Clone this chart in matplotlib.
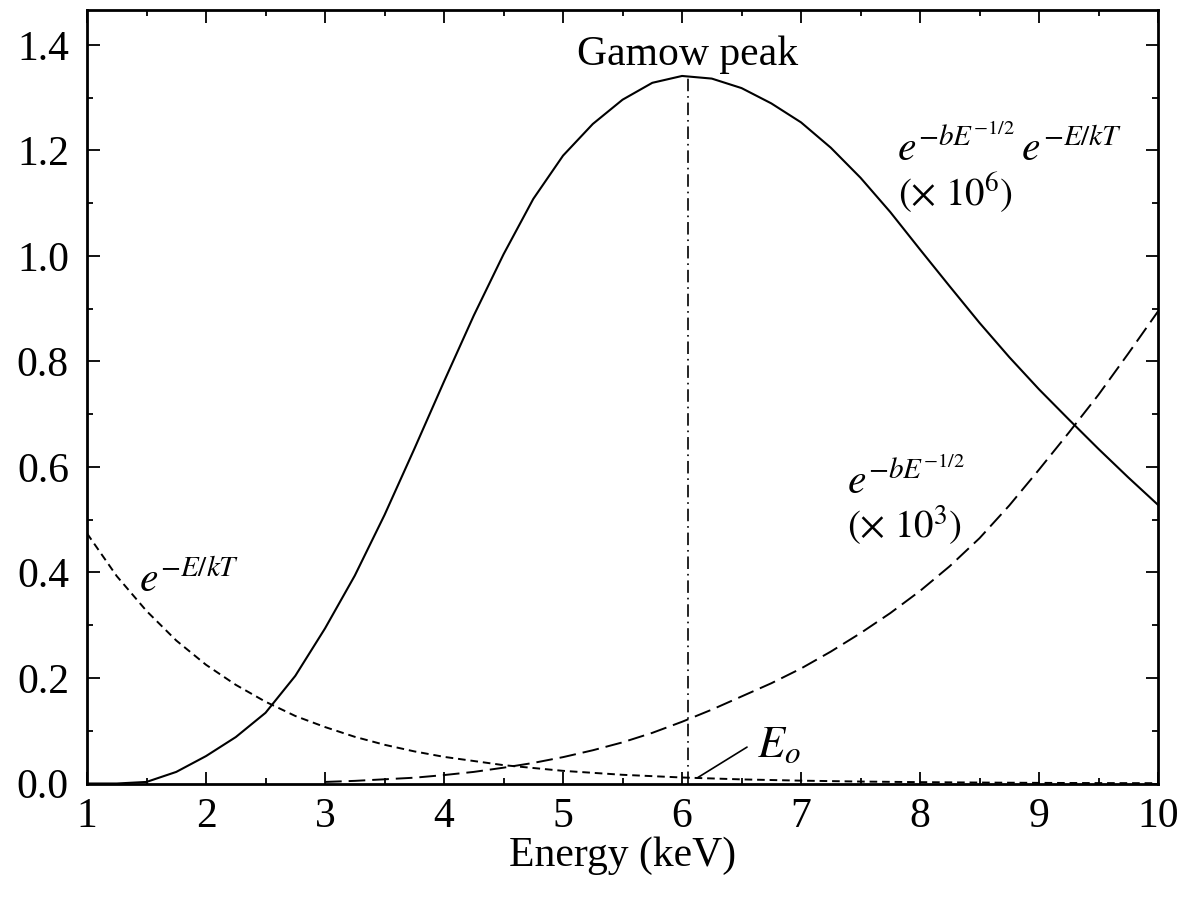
import matplotlib
matplotlib.use("Agg")
import matplotlib.pyplot as plt
from matplotlib.ticker import MultipleLocator

plt.rcParams['font.family'] = ['Liberation Serif', 'DejaVu Serif']
plt.rcParams['mathtext.fontset'] = 'stix'
plt.rcParams['lines.scale_dashes'] = False

# ---- data ----
energy_gamow = [1.0, 1.25, 1.5, 1.75, 2.0, 2.25, 2.5, 2.75, 3.0, 3.25, 3.5, 3.75,
                4.0, 4.25, 4.5, 4.75, 5.0, 5.25, 5.5, 5.75, 6.0, 6.25, 6.5, 6.75,
                7.0, 7.25, 7.5, 7.75, 8.0, 8.25, 8.5, 8.75, 9.0, 9.25, 9.5, 9.75, 10.0]
gamow_x1e6 = [0.0, 0.0, 0.003, 0.022, 0.052, 0.088, 0.134, 0.204, 0.294, 0.394, 0.509, 0.634,
              0.762, 0.887, 1.003, 1.108, 1.190, 1.250, 1.296, 1.328, 1.341, 1.336, 1.318, 1.289,
              1.253, 1.205, 1.148, 1.083, 1.012, 0.942, 0.873, 0.808, 0.747, 0.690, 0.634, 0.580, 0.528]

energy_boltz = [1.0, 1.25, 1.5, 1.75, 2.0, 2.25, 2.5, 2.75, 3.0, 3.25, 3.5, 3.75, 4.0,
                4.5, 5.0, 5.5, 6.0, 6.5, 7.0, 7.5, 8.0, 8.5, 9.0, 9.5, 10.0]
boltzmann = [0.474, 0.393, 0.327, 0.271, 0.225, 0.187, 0.155, 0.128, 0.107, 0.0885, 0.0734, 0.0609, 0.0505,
             0.0348, 0.0240, 0.0165, 0.0114, 0.0078, 0.0054, 0.0037, 0.0026, 0.0018, 0.0012, 0.0008, 0.0006]

energy_tunnel = [3.0, 3.25, 3.5, 3.75, 4.0, 4.25, 4.5, 4.75, 5.0, 5.25, 5.5, 5.75, 6.0, 6.25,
                 6.5, 6.75, 7.0, 7.25, 7.5, 7.75, 8.0, 8.25, 8.5, 8.75, 9.0, 9.25, 9.5, 9.75, 10.0]
tunnel_x1e3 = [0.003, 0.005, 0.008, 0.011, 0.016, 0.022, 0.030, 0.039, 0.050, 0.063, 0.078, 0.096, 0.117, 0.140,
               0.165, 0.190, 0.218, 0.250, 0.285, 0.323, 0.365, 0.412, 0.465, 0.527, 0.595, 0.665, 0.737, 0.815, 0.895]

peak_energy = 6.05
peak_value = 1.34

x_ticks = [1, 2, 3, 4, 5, 6, 7, 8, 9, 10]
y_ticks = [0.0, 0.2, 0.4, 0.6, 0.8, 1.0, 1.2, 1.4]

# ---- figure ----
fig = plt.figure(figsize=(11.84, 9.01), dpi=100)
ax = fig.add_axes([0.0735, 0.1304, 0.9046, 0.8585])

ax.plot(energy_gamow, gamow_x1e6, color='black', lw=1.5, solid_joinstyle='round')
ax.plot(energy_boltz, boltzmann, color='black', lw=1.4, dashes=(5.5, 3.5))
ax.plot(energy_tunnel, tunnel_x1e3, color='black', lw=1.4, dashes=(12, 5))
ax.vlines(peak_energy, 0, peak_value, colors='black', lw=1.2,
          linestyles=[(0, (9, 3.5, 1.2, 3.5))])

ax.set_xlim(1, 10)
ax.set_ylim(0, 1.466)
ax.set_xticks(x_ticks)
ax.set_yticks(y_ticks)
ax.set_xticklabels([str(t) for t in x_ticks])
ax.set_yticklabels([f"{t:.1f}" for t in y_ticks])
ax.xaxis.set_minor_locator(MultipleLocator(0.5))
ax.yaxis.set_minor_locator(MultipleLocator(0.1))
ax.tick_params(which='both', direction='in', top=True, right=True, width=1.3, colors='black')
ax.tick_params(which='major', length=9, labelsize=30)
ax.tick_params(which='minor', length=4.5)
ax.tick_params(axis='x', which='major', pad=10)
ax.tick_params(axis='y', which='major', pad=13)
for s in ax.spines.values():
    s.set_linewidth(2.0)

ax.set_xlabel('Energy (keV)', fontsize=30)
ax.xaxis.set_label_coords(0.5, -0.069)

ax.text(6.05, 1.362, 'Gamow peak', fontsize=30, ha='center', va='baseline')
ax.text(1.437, 0.363, r'$e^{-E/kT}$', fontsize=30, ha='left', va='baseline')
ax.text(7.807, 1.180, r'$e^{-bE^{-1/2}}\,e^{-E/kT}$', fontsize=30, ha='left', va='baseline')
ax.text(7.815, 1.096, r'$(\times\ 10^{6})$', fontsize=28, ha='left', va='baseline')
ax.text(7.387, 0.549, r'$e^{-bE^{-1/2}}$', fontsize=30, ha='left', va='baseline')
ax.text(7.387, 0.465, r'$(\times\ 10^{3})$', fontsize=28, ha='left', va='baseline')
ax.text(6.63, 0.05, r'$E_o$', fontsize=32, ha='left', va='baseline')
ax.annotate('', xy=(6.126, 0.0104), xytext=(6.546, 0.069),
            arrowprops=dict(arrowstyle='-', color='black', lw=1.2, shrinkA=0, shrinkB=0))

fig.savefig('out.png', dpi=100)
